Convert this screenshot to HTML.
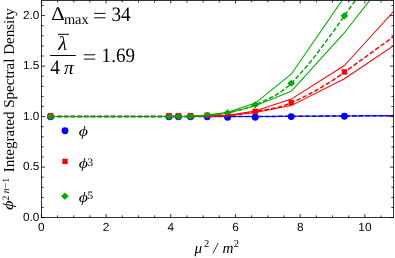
<!DOCTYPE html>
<html><head><meta charset="utf-8"><title>plot</title>
<style>
html,body{margin:0;padding:0;background:#fff;}
body{width:395px;height:258px;overflow:hidden;font-family:"Liberation Sans",sans-serif;}
svg{display:block;will-change:transform;text-rendering:geometricPrecision;}
.t{font-family:"Liberation Sans",sans-serif;font-size:11.8px;fill:#000;}
.s{font-family:"Liberation Serif",serif;fill:#000;}
.i{font-style:italic;}
</style></head><body>
<svg width="395" height="258" viewBox="0 0 395 258">
<rect width="395" height="258" fill="#fff"/>
<defs><clipPath id="c"><rect x="41.4" y="0.4" width="352.2" height="217.2"/></clipPath></defs>

<g clip-path="url(#c)">
<circle cx="50.5" cy="116.8" r="3.45" fill="#0000ff"/>
<circle cx="169.0" cy="116.8" r="3.45" fill="#0000ff"/>
<circle cx="178.4" cy="116.8" r="3.45" fill="#0000ff"/>
<circle cx="190.5" cy="116.8" r="3.45" fill="#0000ff"/>
<circle cx="207.2" cy="116.8" r="3.45" fill="#0000ff"/>
<circle cx="227.6" cy="117.3" r="3.45" fill="#0000ff"/>
<circle cx="255.2" cy="117.3" r="3.45" fill="#0000ff"/>
<circle cx="291.2" cy="116.6" r="3.45" fill="#0000ff"/>
<circle cx="344.4" cy="116.3" r="3.45" fill="#0000ff"/>
<rect x="47.8" y="112.9" width="5.4" height="5.4" fill="#ff0000"/>
<rect x="166.3" y="112.9" width="5.4" height="5.4" fill="#ff0000"/>
<rect x="175.7" y="112.9" width="5.4" height="5.4" fill="#ff0000"/>
<rect x="187.8" y="112.9" width="5.4" height="5.4" fill="#ff0000"/>
<rect x="204.5" y="112.5" width="5.4" height="5.4" fill="#ff0000"/>
<rect x="224.9" y="111.9" width="5.4" height="5.4" fill="#ff0000"/>
<rect x="252.5" y="108.6" width="5.4" height="5.4" fill="#ff0000"/>
<rect x="288.5" y="99.8" width="5.4" height="5.4" fill="#ff0000"/>
<rect x="341.7" y="69.2" width="5.4" height="5.4" fill="#ff0000"/>
<path d="M46.6,116.5 L50.5,113.0 L54.4,116.5 L50.5,120.0Z" fill="#00aa00"/>
<path d="M165.1,116.5 L169.0,113.0 L172.9,116.5 L169.0,120.0Z" fill="#00aa00"/>
<path d="M174.5,116.5 L178.4,113.0 L182.3,116.5 L178.4,120.0Z" fill="#00aa00"/>
<path d="M186.6,116.4 L190.5,112.9 L194.4,116.4 L190.5,120.0Z" fill="#00aa00"/>
<path d="M203.3,115.3 L207.2,111.8 L211.1,115.3 L207.2,118.8Z" fill="#00aa00"/>
<path d="M223.7,112.8 L227.6,109.2 L231.5,112.8 L227.6,116.3Z" fill="#00aa00"/>
<path d="M251.3,104.7 L255.2,101.2 L259.1,104.7 L255.2,108.2Z" fill="#00aa00"/>
<path d="M287.3,83.3 L291.2,79.8 L295.1,83.3 L291.2,86.8Z" fill="#00aa00"/>
<path d="M340.5,15.8 L344.4,12.2 L348.3,15.8 L344.4,19.4Z" fill="#00aa00"/>
</g>
<g clip-path="url(#c)" fill="none" stroke-linejoin="round">
<polyline points="50.5,116.5 169.0,116.5 178.4,116.5 190.5,116.5 207.2,116.5 227.6,116.5 255.2,116.5 291.2,116.3 344.4,116.0 420.0,115.4" stroke="#0000ff" stroke-width="1.5" stroke-dasharray="4.6 2.1"/>
<polyline points="50.5,116.5 169.0,116.5 178.4,116.5 190.5,116.5 207.2,116.5 227.6,116.5 255.2,116.5 291.2,116.3 344.4,116.0 420.0,115.4" stroke="#0000ff" stroke-width="1.05"/>
<polyline points="50.5,116.5 169.0,116.5 178.4,116.5 190.5,116.5 207.2,116.0 227.6,115.2 255.2,111.0 291.2,99.1 344.4,65.5 420.0,-17.7" stroke="#ff0000" stroke-width="1.05"/>
<polyline points="50.5,116.5 169.0,116.5 178.4,116.5 190.5,116.5 207.2,116.2 227.6,115.8 255.2,112.6 291.2,105.6 344.4,78.7 420.0,27.8" stroke="#ff0000" stroke-width="1.05"/>
<polyline points="50.5,116.50 51.5,116.50 52.5,116.50 53.5,116.50 54.5,116.50 55.5,116.50 56.5,116.50 57.5,116.50 58.5,116.50 59.5,116.50 60.5,116.50 61.5,116.50 62.6,116.50 63.6,116.50 64.6,116.50 65.6,116.50 66.6,116.50 67.6,116.50 68.6,116.50 69.6,116.50 70.6,116.50 71.6,116.50 72.6,116.50 73.6,116.50 74.6,116.50 75.6,116.50 76.6,116.50 77.6,116.50 78.6,116.50 79.6,116.50 80.6,116.50 81.6,116.50 82.6,116.50 83.6,116.50 84.6,116.50 85.6,116.50 86.7,116.50 87.7,116.50 88.7,116.50 89.7,116.50 90.7,116.50 91.7,116.50 92.7,116.50 93.7,116.50 94.7,116.50 95.7,116.50 96.7,116.50 97.7,116.50 98.7,116.50 99.7,116.50 100.7,116.50 101.7,116.50 102.7,116.50 103.7,116.50 104.7,116.50 105.7,116.50 106.7,116.50 107.7,116.50 108.7,116.50 109.8,116.50 110.8,116.50 111.8,116.50 112.8,116.50 113.8,116.50 114.8,116.50 115.8,116.50 116.8,116.50 117.8,116.50 118.8,116.50 119.8,116.50 120.8,116.50 121.8,116.50 122.8,116.50 123.8,116.50 124.8,116.50 125.8,116.50 126.8,116.50 127.8,116.50 128.8,116.50 129.8,116.50 130.8,116.50 131.8,116.50 132.8,116.50 133.9,116.50 134.9,116.50 135.9,116.50 136.9,116.50 137.9,116.50 138.9,116.50 139.9,116.50 140.9,116.50 141.9,116.50 142.9,116.50 143.9,116.50 144.9,116.50 145.9,116.50 146.9,116.50 147.9,116.50 148.9,116.50 149.9,116.50 150.9,116.50 151.9,116.50 152.9,116.50 153.9,116.50 154.9,116.50 155.9,116.50 156.9,116.50 158.0,116.50 159.0,116.50 160.0,116.50 161.0,116.50 162.0,116.50 163.0,116.50 164.0,116.50 165.0,116.50 166.0,116.50 167.0,116.50 168.0,116.50 169.0,116.50 170.0,116.50 171.1,116.50 172.1,116.50 173.2,116.50 174.2,116.50 175.3,116.50 176.3,116.50 177.4,116.50 178.4,116.50 179.4,116.50 180.4,116.50 181.4,116.51 182.4,116.51 183.4,116.52 184.4,116.52 185.5,116.52 186.5,116.52 187.5,116.52 188.5,116.52 189.5,116.51 190.5,116.50 191.5,116.48 192.6,116.47 193.6,116.45 194.7,116.43 195.7,116.40 196.8,116.38 197.8,116.35 198.8,116.33 199.9,116.30 200.9,116.27 202.0,116.24 203.0,116.21 204.1,116.19 205.1,116.16 206.2,116.13 207.2,116.10 208.2,116.08 209.2,116.06 210.3,116.04 211.3,116.03 212.3,116.02 213.3,116.01 214.3,116.00 215.4,115.99 216.4,115.98 217.4,115.97 218.4,115.95 219.4,115.93 220.5,115.91 221.5,115.88 222.5,115.84 223.5,115.79 224.5,115.73 225.6,115.67 226.6,115.59 227.6,115.50 228.6,115.40 229.6,115.30 230.7,115.20 231.7,115.09 232.7,114.98 233.7,114.87 234.8,114.76 235.8,114.64 236.8,114.51 237.8,114.39 238.8,114.26 239.9,114.12 240.9,113.99 241.9,113.84 242.9,113.70 244.0,113.55 245.0,113.39 246.0,113.24 247.0,113.07 248.0,112.91 249.1,112.73 250.1,112.56 251.1,112.38 252.1,112.19 253.2,112.00 254.2,111.80 255.2,111.60 256.2,111.40 257.2,111.21 258.2,111.02 259.2,110.84 260.2,110.66 261.2,110.48 262.2,110.31 263.2,110.13 264.2,109.96 265.2,109.78 266.2,109.61 267.2,109.43 268.2,109.25 269.2,109.07 270.2,108.88 271.2,108.69 272.2,108.49 273.2,108.29 274.2,108.08 275.2,107.86 276.2,107.64 277.2,107.40 278.2,107.16 279.2,106.90 280.2,106.64 281.2,106.36 282.2,106.07 283.2,105.77 284.2,105.46 285.2,105.13 286.2,104.78 287.2,104.42 288.2,104.04 289.2,103.65 290.2,103.23 291.2,102.80 292.2,102.35 293.2,101.90 294.2,101.45 295.2,100.99 296.2,100.53 297.2,100.06 298.2,99.58 299.2,99.11 300.2,98.62 301.2,98.14 302.2,97.64 303.2,97.15 304.2,96.65 305.3,96.14 306.3,95.63 307.3,95.11 308.3,94.59 309.3,94.06 310.3,93.53 311.3,92.99 312.3,92.45 313.3,91.90 314.3,91.35 315.3,90.79 316.3,90.23 317.3,89.66 318.3,89.09 319.3,88.51 320.3,87.93 321.3,87.34 322.3,86.74 323.3,86.14 324.3,85.53 325.3,84.92 326.3,84.31 327.3,83.68 328.3,83.05 329.3,82.42 330.3,81.78 331.4,81.13 332.4,80.48 333.4,79.83 334.4,79.16 335.4,78.49 336.4,77.82 337.4,77.14 338.4,76.45 339.4,75.76 340.4,75.06 341.4,74.35 342.4,73.64 343.4,72.92 344.4,72.20 420.0,17.47" stroke="#ff0000" stroke-width="1.5" stroke-dasharray="4.6 2.1"/>
<polyline points="50.5,116.5 169.0,116.5 178.4,116.5 190.5,116.3 207.2,115.0 227.6,112.3 255.2,103.1 291.2,74.2 344.4,-3.0 420.0,-114.7" stroke="#00aa00" stroke-width="1.05"/>
<polyline points="50.5,116.5 169.0,116.5 178.4,116.5 190.5,116.4 207.2,115.5 227.6,113.3 255.2,105.8 291.2,91.3 344.4,32.7 420.0,-64.1" stroke="#00aa00" stroke-width="1.05"/>
<polyline points="50.5,116.50 51.5,116.50 52.5,116.50 53.5,116.50 54.5,116.50 55.5,116.50 56.5,116.50 57.5,116.50 58.5,116.50 59.5,116.50 60.5,116.50 61.5,116.50 62.6,116.50 63.6,116.50 64.6,116.50 65.6,116.50 66.6,116.50 67.6,116.50 68.6,116.50 69.6,116.50 70.6,116.50 71.6,116.50 72.6,116.50 73.6,116.50 74.6,116.50 75.6,116.50 76.6,116.50 77.6,116.50 78.6,116.50 79.6,116.50 80.6,116.50 81.6,116.50 82.6,116.50 83.6,116.50 84.6,116.50 85.6,116.50 86.7,116.50 87.7,116.50 88.7,116.50 89.7,116.50 90.7,116.50 91.7,116.50 92.7,116.50 93.7,116.50 94.7,116.50 95.7,116.50 96.7,116.50 97.7,116.50 98.7,116.50 99.7,116.50 100.7,116.50 101.7,116.50 102.7,116.50 103.7,116.50 104.7,116.50 105.7,116.50 106.7,116.50 107.7,116.50 108.7,116.50 109.8,116.50 110.8,116.50 111.8,116.50 112.8,116.50 113.8,116.50 114.8,116.50 115.8,116.50 116.8,116.50 117.8,116.50 118.8,116.50 119.8,116.50 120.8,116.50 121.8,116.50 122.8,116.50 123.8,116.50 124.8,116.50 125.8,116.50 126.8,116.50 127.8,116.50 128.8,116.50 129.8,116.50 130.8,116.50 131.8,116.50 132.8,116.50 133.9,116.50 134.9,116.50 135.9,116.50 136.9,116.50 137.9,116.50 138.9,116.50 139.9,116.50 140.9,116.50 141.9,116.50 142.9,116.50 143.9,116.50 144.9,116.50 145.9,116.50 146.9,116.50 147.9,116.50 148.9,116.50 149.9,116.50 150.9,116.50 151.9,116.50 152.9,116.50 153.9,116.50 154.9,116.50 155.9,116.50 156.9,116.50 158.0,116.50 159.0,116.50 160.0,116.50 161.0,116.50 162.0,116.50 163.0,116.50 164.0,116.50 165.0,116.50 166.0,116.50 167.0,116.50 168.0,116.50 169.0,116.50 170.0,116.50 171.1,116.50 172.1,116.50 173.2,116.50 174.2,116.51 175.3,116.51 176.3,116.51 177.4,116.50 178.4,116.50 179.4,116.50 180.4,116.50 181.4,116.50 182.4,116.50 183.4,116.51 184.4,116.51 185.5,116.50 186.5,116.50 187.5,116.48 188.5,116.46 189.5,116.44 190.5,116.40 191.5,116.36 192.6,116.31 193.6,116.26 194.7,116.21 195.7,116.15 196.8,116.09 197.8,116.03 198.8,115.97 199.9,115.90 200.9,115.82 202.0,115.75 203.0,115.67 204.1,115.58 205.1,115.49 206.2,115.40 207.2,115.30 208.2,115.20 209.2,115.11 210.3,115.02 211.3,114.93 212.3,114.84 213.3,114.75 214.3,114.66 215.4,114.57 216.4,114.47 217.4,114.37 218.4,114.26 219.4,114.14 220.5,114.01 221.5,113.88 222.5,113.73 223.5,113.57 224.5,113.40 225.6,113.22 226.6,113.02 227.6,112.80 228.6,112.58 229.6,112.35 230.7,112.13 231.7,111.90 232.7,111.68 233.7,111.45 234.8,111.22 235.8,110.98 236.8,110.75 237.8,110.50 238.8,110.25 239.9,109.99 240.9,109.72 241.9,109.45 242.9,109.17 244.0,108.87 245.0,108.56 246.0,108.25 247.0,107.91 248.0,107.57 249.1,107.21 250.1,106.83 251.1,106.44 252.1,106.03 253.2,105.61 254.2,105.16 255.2,104.70 256.2,104.24 257.2,103.79 258.2,103.34 259.2,102.89 260.2,102.45 261.2,102.01 262.2,101.57 263.2,101.13 264.2,100.69 265.2,100.24 266.2,99.79 267.2,99.34 268.2,98.87 269.2,98.40 270.2,97.92 271.2,97.42 272.2,96.92 273.2,96.40 274.2,95.86 275.2,95.31 276.2,94.75 277.2,94.16 278.2,93.55 279.2,92.93 280.2,92.28 281.2,91.60 282.2,90.91 283.2,90.18 284.2,89.43 285.2,88.65 286.2,87.84 287.2,87.00 288.2,86.13 289.2,85.22 290.2,84.28 291.2,83.30 292.2,82.29 293.2,81.27 294.2,80.23 295.2,79.18 296.2,78.12 297.2,77.04 298.2,75.95 299.2,74.84 300.2,73.72 301.2,72.59 302.2,71.45 303.2,70.30 304.2,69.13 305.3,67.95 306.3,66.76 307.3,65.56 308.3,64.35 309.3,63.13 310.3,61.90 311.3,60.66 312.3,59.41 313.3,58.15 314.3,56.88 315.3,55.60 316.3,54.31 317.3,53.02 318.3,51.71 319.3,50.40 320.3,49.08 321.3,47.75 322.3,46.42 323.3,45.08 324.3,43.73 325.3,42.38 326.3,41.02 327.3,39.65 328.3,38.28 329.3,36.91 330.3,35.52 331.4,34.14 332.4,32.75 333.4,31.35 334.4,29.95 335.4,28.55 336.4,27.14 337.4,25.73 338.4,24.32 339.4,22.91 340.4,21.49 341.4,20.07 342.4,18.65 343.4,17.22 344.4,15.80 420.0,-91.55" stroke="#00aa00" stroke-width="1.5" stroke-dasharray="4.6 2.1"/>
</g>
<g stroke="#000" stroke-width="0.8" fill="none">
<rect x="41.4" y="0.5" width="352.2" height="217.1"/>
<path d="M41.40,217.6v-3.6 M41.40,0.5v3.0 M57.58,217.6v-2.2 M57.58,0.5v2.0 M73.75,217.6v-2.2 M73.75,0.5v2.0 M89.93,217.6v-2.2 M89.93,0.5v2.0 M106.10,217.6v-3.6 M106.10,0.5v3.0 M122.28,217.6v-2.2 M122.28,0.5v2.0 M138.45,217.6v-2.2 M138.45,0.5v2.0 M154.62,217.6v-2.2 M154.62,0.5v2.0 M170.80,217.6v-3.6 M170.80,0.5v3.0 M186.98,217.6v-2.2 M186.98,0.5v2.0 M203.15,217.6v-2.2 M203.15,0.5v2.0 M219.33,217.6v-2.2 M219.33,0.5v2.0 M235.50,217.6v-3.6 M235.50,0.5v3.0 M251.68,217.6v-2.2 M251.68,0.5v2.0 M267.85,217.6v-2.2 M267.85,0.5v2.0 M284.02,217.6v-2.2 M284.02,0.5v2.0 M300.20,217.6v-3.6 M300.20,0.5v3.0 M316.38,217.6v-2.2 M316.38,0.5v2.0 M332.55,217.6v-2.2 M332.55,0.5v2.0 M348.72,217.6v-2.2 M348.72,0.5v2.0 M364.90,217.6v-3.6 M364.90,0.5v3.0 M381.07,217.6v-2.2 M381.07,0.5v2.0 M41.4,217.60h3.6 M393.6,217.60h-3.6 M41.4,207.50h2.2 M393.6,207.50h-2.2 M41.4,197.40h2.2 M393.6,197.40h-2.2 M41.4,187.30h2.2 M393.6,187.30h-2.2 M41.4,177.20h2.2 M393.6,177.20h-2.2 M41.4,167.10h3.6 M393.6,167.10h-3.6 M41.4,157.00h2.2 M393.6,157.00h-2.2 M41.4,146.90h2.2 M393.6,146.90h-2.2 M41.4,136.80h2.2 M393.6,136.80h-2.2 M41.4,126.70h2.2 M393.6,126.70h-2.2 M41.4,116.60h3.6 M393.6,116.60h-3.6 M41.4,106.50h2.2 M393.6,106.50h-2.2 M41.4,96.40h2.2 M393.6,96.40h-2.2 M41.4,86.30h2.2 M393.6,86.30h-2.2 M41.4,76.20h2.2 M393.6,76.20h-2.2 M41.4,66.10h3.6 M393.6,66.10h-3.6 M41.4,56.00h2.2 M393.6,56.00h-2.2 M41.4,45.90h2.2 M393.6,45.90h-2.2 M41.4,35.80h2.2 M393.6,35.80h-2.2 M41.4,25.70h2.2 M393.6,25.70h-2.2 M41.4,15.60h3.6 M393.6,15.60h-3.6 M41.4,5.50h2.2 M393.6,5.50h-2.2"/>
</g>
<text class="t" x="41.4" y="231.2" text-anchor="middle">0</text>
<text class="t" x="106.1" y="231.2" text-anchor="middle">2</text>
<text class="t" x="170.8" y="231.2" text-anchor="middle">4</text>
<text class="t" x="235.5" y="231.2" text-anchor="middle">6</text>
<text class="t" x="300.2" y="231.2" text-anchor="middle">8</text>
<text class="t" x="364.9" y="231.2" text-anchor="middle">10</text>
<text class="t" x="39.3" y="220.6" text-anchor="end">0.0</text>
<text class="t" x="39.3" y="170.1" text-anchor="end">0.5</text>
<text class="t" x="39.3" y="119.6" text-anchor="end">1.0</text>
<text class="t" x="39.3" y="69.1" text-anchor="end">1.5</text>
<text class="t" x="39.3" y="18.6" text-anchor="end">2.0</text>
<g class="s" font-size="15.2">
<text class="i" x="194.6" y="252.6">μ</text>
<text x="204.0" y="247.3" font-size="10.6">2</text>
<text class="i" x="213.2" y="252.6">/</text>
<text class="i" x="222.6" y="252.6">m</text>
<text x="233.8" y="247.3" font-size="10.6">2</text>
</g>
<g class="s">
<text class="i" transform="translate(13.4,209.9) rotate(-90) scale(1.25,1)" font-size="14.8">ϕ</text>
<text transform="translate(8.6,200.6) rotate(-90)" font-size="9.8">2 <tspan class="i">n</tspan>−1</text>
<text transform="translate(13.6,172.3) rotate(-90)" font-size="15">Integrated Spectral Density</text>
</g>
<g class="s">
<text transform="translate(51.2,20.3) scale(1.08,1)" font-size="19.5">Δ</text>
<text transform="translate(63.9,23.6) scale(1.0,1)" font-size="14.4">max</text>
<text transform="translate(111.4,20.5) scale(0.94,1)" font-size="20.5">34</text>
<text class="i" transform="translate(58.3,50.3) scale(1,1)" font-size="20">λ</text>
<text transform="translate(50.3,74.4) scale(0.94,1)" font-size="20.5">4</text>
<text class="i" transform="translate(64.0,74.4) scale(1,1)" font-size="19.5">π</text>
<text transform="translate(101.6,62.0) scale(0.93,1)" font-size="20.5">1.69</text>
<path d="M58,34.3h10.9" stroke="#000" stroke-width="1"/>
<path d="M50.2,55.5h25.6" stroke="#000" stroke-width="1"/>
<path d="M94.2,13.4h11.4M94.2,17.8h11.4M83.8,54.8h11.4M83.8,59.1h11.4" stroke="#000" stroke-width="0.95"/>
</g>
<circle cx="65.0" cy="130.8" r="3.45" fill="#0000ff"/>
<rect x="62.3" y="158.7" width="5.4" height="5.4" fill="#ff0000"/>
<path d="M61.0,196.2 L64.9,192.6 L68.8,196.2 L64.9,199.8Z" fill="#00aa00"/>
<g class="s">
<text class="i" transform="translate(78.7,135.7) scale(1.22,1)" font-size="14.6">ϕ</text>
<text class="i" transform="translate(78.7,168.4) scale(1.22,1)" font-size="14.6">ϕ</text>
<text class="i" transform="translate(78.7,202.4) scale(1.22,1)" font-size="14.6">ϕ</text>
<text x="87.6" y="165.6" font-size="11.3">3</text>
<text x="87.6" y="199.4" font-size="11.3">5</text>
</g>
</svg></body></html>
